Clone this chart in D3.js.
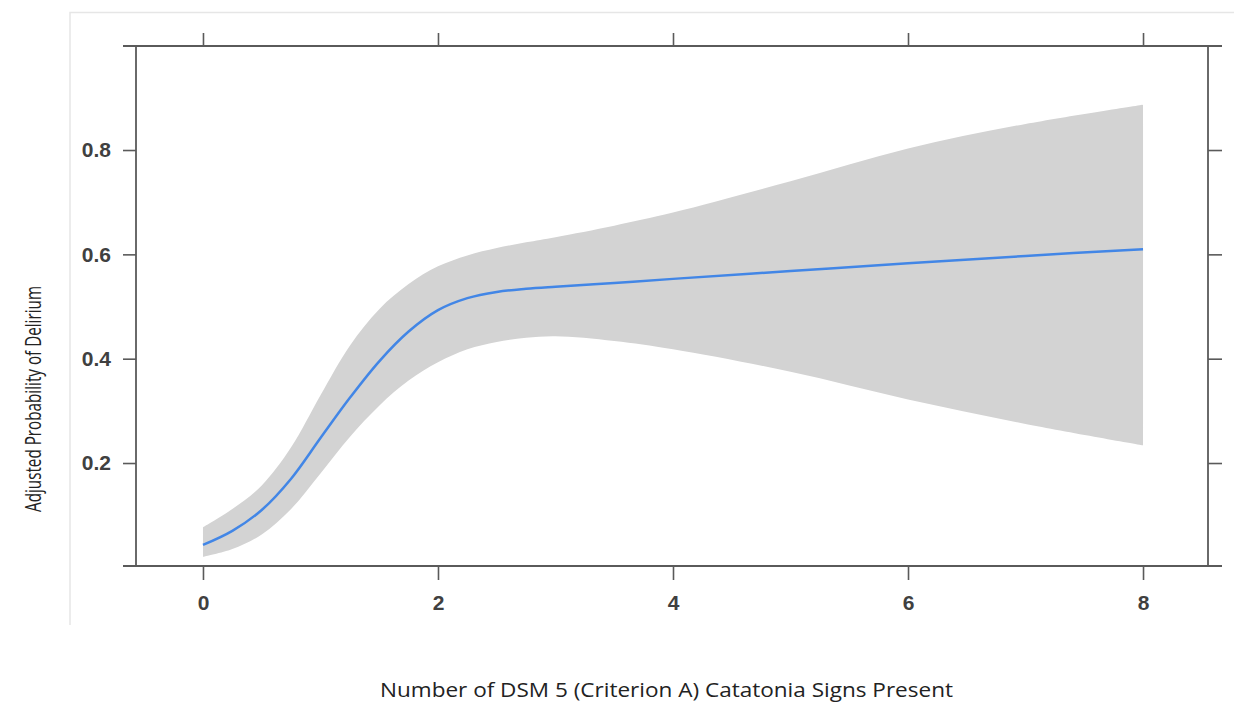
<!DOCTYPE html>
<html>
<head>
<meta charset="utf-8">
<script src="https://cdn.jsdelivr.net/npm/d3@7"></script>
<style>
  body { margin: 0; background: #fff; }
  svg { display: block; }
</style>
</head>
<body>
<svg id="chart" width="1234" height="713"></svg>
<script>
// number of catatonia signs, fitted probability and its confidence band
const signs = [0, 0.25, 0.5, 0.75, 1, 1.25, 1.5, 1.75, 2, 2.25, 2.5, 2.75, 3, 3.5, 4, 5, 6, 7, 8];
const fit   = [0.043, 0.070, 0.110, 0.170, 0.248, 0.325, 0.395, 0.452, 0.493, 0.516, 0.528, 0.534, 0.538, 0.545, 0.553, 0.568, 0.583, 0.597, 0.610];
const upper = [0.077, 0.112, 0.157, 0.230, 0.330, 0.425, 0.495, 0.543, 0.577, 0.598, 0.612, 0.623, 0.633, 0.655, 0.680, 0.740, 0.803, 0.850, 0.887];
const lower = [0.020, 0.035, 0.063, 0.112, 0.180, 0.250, 0.310, 0.358, 0.393, 0.418, 0.432, 0.440, 0.443, 0.434, 0.418, 0.375, 0.322, 0.275, 0.234];
const xTicks = [0, 2, 4, 6, 8];
const yTicks = [0.2, 0.4, 0.6, 0.8];
const xTitle = "Number of DSM 5 (Criterion A) Catatonia Signs Present";
const yTitle = "Adjusted Probability of Delirium";

const data = signs.map((s, i) => ({ x: s, y: fit[i], lo: lower[i], hi: upper[i] }));

const svg = d3.select("#chart");
const pLeft = 136, pRight = 1208, pTop = 46, pBottom = 566;

const x = d3.scaleLinear().domain([-0.570, 8.553]).range([pLeft, pRight]);
const y = d3.scaleLinear().domain([0.0026, 0.9994]).range([pBottom, pTop]);

// faint outer border of the figure
svg.append("path")
  .attr("d", "M70,625V12.5H1234")
  .attr("fill", "none")
  .attr("stroke", "#e6e6e6")
  .attr("stroke-width", 1.5);

// confidence band
svg.append("path")
  .datum(data)
  .attr("fill", "#d3d3d3")
  .attr("d", d3.area()
    .x(d => x(d.x))
    .y0(d => y(d.lo))
    .y1(d => y(d.hi))
    .curve(d3.curveCatmullRom));

// fitted line
svg.append("path")
  .datum(data)
  .attr("fill", "none")
  .attr("stroke", "#4286e6")
  .attr("stroke-width", 2.5)
  .attr("d", d3.line()
    .x(d => x(d.x))
    .y(d => y(d.y))
    .curve(d3.curveCatmullRom));

const axisColor = "#5a5a5a";
const labelFont = "'Liberation Sans', Arial, sans-serif";

function styleAxis(g) {
  g.select(".domain").remove();
  g.selectAll(".tick line").attr("stroke", axisColor).attr("stroke-width", 1.6);
  g.selectAll(".tick text")
    .attr("fill", "#404040")
    .style("font-family", labelFont)
    .style("font-size", "21px")
    .style("font-weight", "bold");
}

svg.append("g")
  .attr("transform", `translate(0,${pBottom})`)
  .call(d3.axisBottom(x).tickValues(xTicks).tickSize(14).tickPadding(15).tickFormat(d3.format("d")))
  .call(styleAxis);

svg.append("g")
  .attr("transform", `translate(0,${pTop})`)
  .call(d3.axisTop(x).tickValues(xTicks).tickSize(13).tickFormat(""))
  .call(styleAxis);

svg.append("g")
  .attr("transform", `translate(${pLeft},0)`)
  .call(d3.axisLeft(y).tickValues(yTicks).tickSize(13).tickPadding(12).tickFormat(d3.format(".1f")))
  .call(styleAxis);

svg.append("g")
  .attr("transform", `translate(${pRight},0)`)
  .call(d3.axisRight(y).tickValues(yTicks).tickSize(14).tickFormat(""))
  .call(styleAxis);

// panel frame, horizontal edges run a little past the corners
const frame = svg.append("g").attr("stroke", axisColor).attr("stroke-width", 1.8);
frame.append("line").attr("x1", pLeft - 13).attr("x2", pRight + 14).attr("y1", pTop).attr("y2", pTop);
frame.append("line").attr("x1", pLeft - 13).attr("x2", pRight + 14).attr("y1", pBottom).attr("y2", pBottom);
frame.append("line").attr("x1", pLeft).attr("x2", pLeft).attr("y1", pTop).attr("y2", pBottom);
frame.append("line").attr("x1", pRight).attr("x2", pRight).attr("y1", pTop).attr("y2", pBottom);

// axis titles
svg.append("text")
  .attr("x", 380)
  .attr("y", 697)
  .attr("textLength", 573)
  .attr("lengthAdjust", "spacingAndGlyphs")
  .attr("fill", "#222")
  .style("font-family", "'Open Sans', sans-serif")
  .style("font-size", "20px")
  .text(xTitle);

svg.append("text")
  .attr("transform", "translate(41,512) rotate(-90)")
  .attr("textLength", 226)
  .attr("lengthAdjust", "spacingAndGlyphs")
  .attr("fill", "#222")
  .style("font-family", "'Open Sans', sans-serif")
  .style("font-size", "21px")
  .text(yTitle);
</script>
</body>
</html>
